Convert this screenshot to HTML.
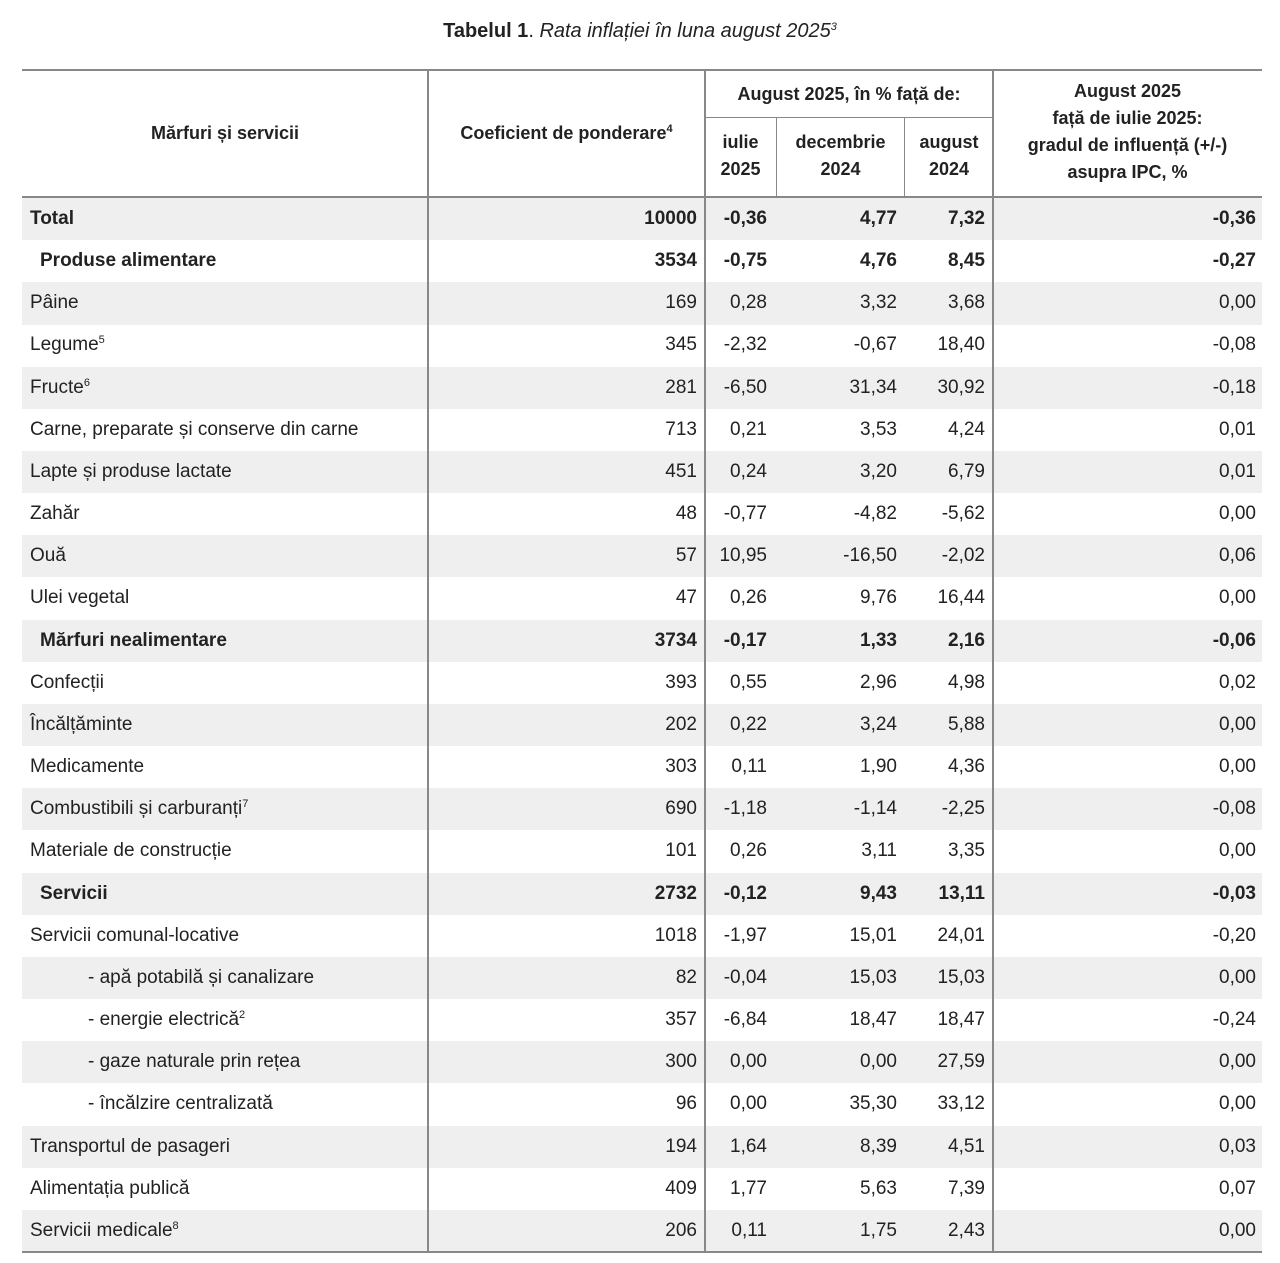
<!DOCTYPE html>
<html><head><meta charset="utf-8"><style>
body{margin:0;width:1280px;height:1263px;background:#fff;font-family:"Liberation Sans",sans-serif;color:#222;position:relative;overflow:hidden}
.t{position:absolute;left:0;width:1280px;top:20px;text-align:center;font-size:20px}
.h{position:absolute;text-align:center;font-size:18px;line-height:27px;font-weight:bold;color:#222}
.row{position:absolute;left:22px;width:1240px;height:42.2px;font-size:19px}
.row div{position:absolute;top:0;line-height:42px;white-space:nowrap}
.g{background:#efefef}
.b{font-weight:bold}
.vl{position:absolute;width:2px;background:#888}
.hl{position:absolute;height:2px;background:#888}
sup{font-size:11px;line-height:0;vertical-align:7px}
</style></head><body>
<div class="t"><b>Tabelul 1</b>. <i>Rata inflației în luna august 2025<sup>3</sup></i></div>
<div id="rows"></div>
<div class="hl" style="left:22px;width:1240px;top:69px"></div>
<div class="hl" style="left:22px;width:1240px;top:196px"></div>
<div class="hl" style="left:705px;width:288px;top:117px;height:1px"></div>
<div class="hl" style="left:22px;width:1240px;top:1251px"></div>
<div class="vl" style="left:427px;top:70px;height:1182px"></div>
<div class="vl" style="left:704px;top:70px;height:1182px"></div>
<div class="vl" style="left:992px;top:70px;height:1182px"></div>
<div class="vl" style="left:776px;top:118px;height:79px;width:1px"></div>
<div class="vl" style="left:904px;top:118px;height:79px;width:1px"></div>
<div class="h" style="left:22px;width:406px;top:120px">Mărfuri și servicii</div>
<div class="h" style="left:428px;width:277px;top:120px">Coeficient de ponderare<sup>4</sup></div>
<div class="h" style="left:705px;width:288px;top:81px">August 2025, în % față de:</div>
<div class="h" style="left:705px;width:71px;top:129px">iulie<br>2025</div>
<div class="h" style="left:776px;width:129px;top:129px">decembrie<br>2024</div>
<div class="h" style="left:905px;width:88px;top:129px">august<br>2024</div>
<div class="h" style="left:993px;width:269px;top:78px">August 2025<br>față de iulie 2025:<br>gradul de influență (+/-)<br>asupra IPC, %</div>
<script>
var d=[["Total",10000,"-0,36","4,77","7,32","-0,36",2],
["Produse alimentare",3534,"-0,75","4,76","8,45","-0,27",2],
["Pâine",169,"0,28","3,32","3,68","0,00",0],
["Legume<sup>5</sup>",345,"-2,32","-0,67","18,40","-0,08",0],
["Fructe<sup>6</sup>",281,"-6,50","31,34","30,92","-0,18",0],
["Carne, preparate și conserve din carne",713,"0,21","3,53","4,24","0,01",0],
["Lapte și produse lactate",451,"0,24","3,20","6,79","0,01",0],
["Zahăr",48,"-0,77","-4,82","-5,62","0,00",0],
["Ouă",57,"10,95","-16,50","-2,02","0,06",0],
["Ulei vegetal",47,"0,26","9,76","16,44","0,00",0],
["Mărfuri nealimentare",3734,"-0,17","1,33","2,16","-0,06",2],
["Confecții",393,"0,55","2,96","4,98","0,02",0],
["Încălțăminte",202,"0,22","3,24","5,88","0,00",0],
["Medicamente",303,"0,11","1,90","4,36","0,00",0],
["Combustibili și carburanți<sup>7</sup>",690,"-1,18","-1,14","-2,25","-0,08",0],
["Materiale de construcție",101,"0,26","3,11","3,35","0,00",0],
["Servicii",2732,"-0,12","9,43","13,11","-0,03",2],
["Servicii comunal-locative",1018,"-1,97","15,01","24,01","-0,20",0],
["- apă potabilă și canalizare",82,"-0,04","15,03","15,03","0,00",1],
["- energie electrică<sup>2</sup>",357,"-6,84","18,47","18,47","-0,24",1],
["- gaze naturale prin rețea",300,"0,00","0,00","27,59","0,00",1],
["- încălzire centralizată",96,"0,00","35,30","33,12","0,00",1],
["Transportul de pasageri",194,"1,64","8,39","4,51","0,03",0],
["Alimentația publică",409,"1,77","5,63","7,39","0,07",0],
["Servicii medicale<sup>8</sup>",206,"0,11","1,75","2,43","0,00",0]];
var h="";
d.forEach(function(r,i){
var top=198+i*42.16;
var cls="row"+(i%2==0?" g":"")+(r[6]==2?" b":"");
var lx=r[6]==1?66:(r[6]==2&&i>0?18:8);
h+='<div class="'+cls+'" style="top:'+top+'px"><div style="left:'+lx+'px">'+r[0]+'</div>'+
'<div style="right:'+(1240-675)+'px">'+r[1]+'</div>'+
'<div style="right:'+(1240-745)+'px">'+r[2]+'</div>'+
'<div style="right:'+(1240-875)+'px">'+r[3]+'</div>'+
'<div style="right:'+(1240-963)+'px">'+r[4]+'</div>'+
'<div style="right:6px">'+r[5]+'</div></div>';
});
document.getElementById("rows").innerHTML=h;
</script>
</body></html>
